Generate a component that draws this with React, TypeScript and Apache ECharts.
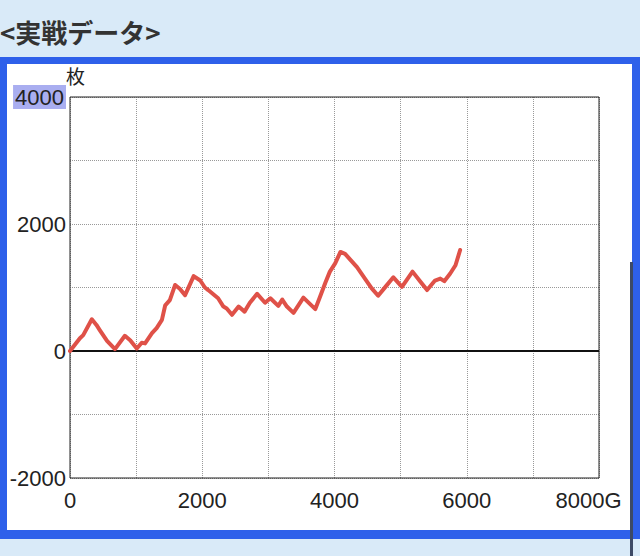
import React, { useEffect, useRef } from "react";
import * as echarts from "echarts";

const games = [0, 150, 200, 330, 400, 450, 560, 680, 830, 910, 1010, 1085, 1135, 1240, 1310, 1390, 1440, 1510, 1590, 1660, 1740, 1870, 1970, 2040, 2090, 2240, 2320, 2370, 2450, 2550, 2640, 2720, 2830, 2950, 3030, 3150, 3210, 3280, 3380, 3530, 3600, 3710, 3780, 3860, 3930, 4010, 4090, 4160, 4340, 4460, 4560, 4660, 4770, 4890, 5020, 5180, 5300, 5400, 5520, 5600, 5660, 5750, 5830, 5900];
const coins = [0, 200, 250, 500, 410, 330, 160, 30, 240, 170, 40, 130, 120, 280, 360, 490, 720, 800, 1040, 980, 880, 1180, 1110, 1000, 960, 830, 700, 670, 570, 700, 620, 760, 900, 760, 830, 710, 810, 700, 600, 840, 770, 660, 850, 1070, 1250, 1380, 1560, 1530, 1320, 1140, 990, 870, 1010, 1160, 1010, 1250, 1090, 960, 1110, 1140, 1100, 1220, 1350, 1590];

const xTicks = [0, 2000, 4000, 6000, 8000];
const yTicks = [-2000, 0, 2000, 4000];
const title = "<実戦データ>";
const yUnit = "枚";
const xUnit = "G";

export default function App() {
  const ref = useRef<HTMLDivElement>(null);
  useEffect(() => {
    if (!ref.current) return;
    const chart = echarts.init(ref.current, undefined, { renderer: "svg" });
    const numFont = "'Liberation Sans', Arial, Helvetica, sans-serif";
    const bg = "#d9eaf8";
    const blue = "#2e60ea";
    chart.setOption({
      animation: false,
      backgroundColor: bg,
      grid: {
        left: 70,
        right: 41,
        top: 97,
        bottom: 78,
        show: true,
        borderColor: "#222",
        borderWidth: 1,
        backgroundColor: "transparent",
        z: 1,
      },
      xAxis: {
        type: "value",
        min: 0,
        max: 8000,
        interval: 1000,
        axisLine: { show: false },
        axisTick: { show: false },
        splitLine: { show: true, lineStyle: { type: "dotted", color: "#999", width: 1 } },
        axisLabel: {
          margin: 11,
          fontSize: 22,
          fontFamily: numFont,
          color: "#222",
          formatter: (v: number) => {
            if (!xTicks.includes(v)) return "";
            if (v === xTicks[xTicks.length - 1]) return "{last|" + v + xUnit + "}";
            return String(v);
          },
          rich: {
            last: { fontSize: 22, fontFamily: numFont, color: "#222", padding: [0, 21, 0, 0] },
          },
        },
      },
      yAxis: {
        type: "value",
        min: -2000,
        max: 4000,
        interval: 1000,
        axisLine: { show: false },
        axisTick: { show: false },
        splitLine: { show: true, lineStyle: { type: "dotted", color: "#999", width: 1 } },
        axisLabel: {
          margin: 4,
          fontSize: 22,
          fontFamily: numFont,
          color: "#222",
          formatter: (v: number) => {
            if (!yTicks.includes(v)) return "";
            if (v === yTicks[yTicks.length - 1]) return "{hl|" + v + "}";
            return String(v);
          },
          rich: {
            hl: {
              fontSize: 22,
              fontFamily: numFont,
              color: "#222",
              backgroundColor: "#a9aef0",
              padding: [1, 2, 1, 2],
              lineHeight: 24,
            },
          },
        },
      },
      series: [
        {
          type: "line",
          data: games.map((g, i) => [g, coins[i]]),
          showSymbol: false,
          symbol: "none",
          lineStyle: { color: "#df5148", width: 4, join: "round", cap: "round" },
          z: 5,
          markLine: {
            silent: true,
            symbol: "none",
            label: { show: false },
            lineStyle: { color: "#111", width: 2, type: "solid" },
            data: [{ yAxis: 0 }],
            z: 4,
          },
        },
      ],
      graphic: [
        { type: "rect", z: -1, silent: true, shape: { x: 7, y: 64, width: 625, height: 466 }, style: { fill: "#fff" } },
        { type: "rect", z: 100, silent: true, shape: { x: 0, y: 57, width: 640, height: 7 }, style: { fill: blue } },
        { type: "rect", z: 100, silent: true, shape: { x: 0, y: 57, width: 7, height: 482 }, style: { fill: blue } },
        { type: "rect", z: 100, silent: true, shape: { x: 632, y: 57, width: 8, height: 482 }, style: { fill: blue } },
        { type: "rect", z: 100, silent: true, shape: { x: 0, y: 530, width: 640, height: 9 }, style: { fill: blue } },
        { type: "rect", z: 101, silent: true, shape: { x: 630, y: 262, width: 3, height: 294 }, style: { fill: "#3d4a66" } },
        {
          type: "text",
          z: 101,
          left: 0,
          top: 18,
          style: {
            text: title,
            fontSize: 26,
            fontWeight: "bold",
            fontFamily: "'Noto Sans CJK JP', sans-serif",
            fill: "#333",
          },
        },
        {
          type: "text",
          z: 101,
          left: 66,
          top: 66,
          style: {
            text: yUnit,
            fontSize: 19,
            fontFamily: "'Noto Sans CJK JP', sans-serif",
            fill: "#222",
          },
        },
      ],
    });
    return () => chart.dispose();
  }, []);
  return (
    <div
      ref={ref}
      style={{ position: "fixed", left: 0, top: 0, width: 640, height: 556 }}
    />
  );
}
